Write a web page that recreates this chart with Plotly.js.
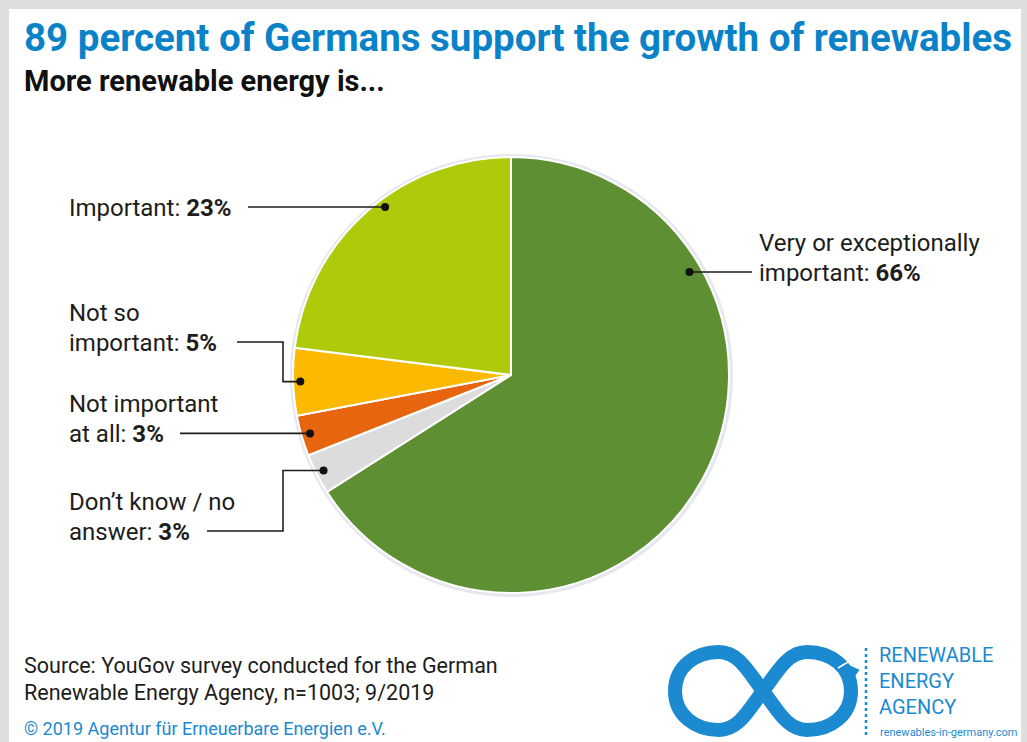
<!DOCTYPE html>
<html>
<head>
<meta charset="utf-8">
<script src="https://cdn.plot.ly/plotly-3.0.1.min.js"></script>
<style>html,body{margin:0;padding:0;background:#fff;}#chart{width:1027px;height:742px;}</style>
</head>
<body>
<div id="chart"></div>
<script>
// ---------- data ----------
const categories = ['Very or exceptionally important', 'Don\u2019t know / no answer', 'Not important at all', 'Not so important', 'Important'];
const values = [66, 3, 3, 5, 23];
const colors = ['#5e8f32', '#dcdcdc', '#e8650f', '#fbb900', '#afca0b'];
const labelLines = [
  ['Very or exceptionally', 'important: <b>66%</b>'],
  ['Don\u2019t know / no', 'answer: <b>3%</b>'],
  ['Not important', 'at all: <b>3%</b>'],
  ['Not so', 'important: <b>5%</b>'],
  ['Important: <b>23%</b>']
];
const titleText = '89 percent of Germans support the growth of renewables';
const subtitleText = 'More renewable energy is...';
const sourceLines = ['Source: YouGov survey conducted for the German', 'Renewable Energy Agency, n=1003; 9/2019'];
const copyrightText = '\u00a9 2019 Agentur f\u00fcr Erneuerbare Energien e.V.';
const logoLines = ['RENEWABLE', 'ENERGY', 'AGENCY'];
const logoUrl = 'renewables-in-germany.com';

// ---------- layout helpers (pixel -> paper) ----------
const W = 1027, H = 742;
const px = x => x / W;
const py = y => 1 - y / H;
const CX = 511, CY = 375, R = 218;
const FONT = 'Roboto, sans-serif';

// slice mid angles (deg clockwise from 12 o'clock)
const total = values.reduce((a, b) => a + b, 0);
let acc = 0;
const mids = values.map(v => { const m = (acc + v / 2) / total * 360; acc += v; return m; });
const polar = (angDeg, r) => {
  const a = angDeg * Math.PI / 180;
  return [CX + r * Math.sin(a), CY - r * Math.cos(a)];
};
const onCircleAtY = (y, r, side) => [CX + side * Math.sqrt(r * r - (y - CY) * (y - CY)), y];

const dots = [
  onCircleAtY(272, 0.945 * R, 1),
  polar(mids[1], 0.965 * R),
  polar(mids[2], 0.96 * R),
  polar(mids[3], 0.967 * R),
  onCircleAtY(207, 0.963 * R, -1)
];

const shapes = [];
const annotations = [];
const lineStyle = {color: '#1d1d1b', width: 1.6};

// background frame
shapes.push({type: 'rect', xref: 'paper', yref: 'paper', x0: px(9), x1: px(1021), y0: py(H + 5), y1: py(9),
  fillcolor: '#ffffff', line: {width: 0}, layer: 'below'});
// soft shadow of the pie
shapes.push({type: 'circle', xref: 'paper', yref: 'paper', x0: px(CX - R - 3), x1: px(CX + R + 4), y0: py(CY + R + 4), y1: py(CY - R - 3),
  fillcolor: 'rgba(200,205,220,0.45)', line: {width: 0}, layer: 'below'});

function path(points) {
  return 'M' + points.map(p => px(p[0]) + ',' + py(p[1])).join(' L');
}
function addLeader(points) {
  shapes.push({type: 'path', xref: 'paper', yref: 'paper', path: path(points), line: lineStyle, layer: 'above'});
}
function addDot(p) {
  const r = 4;
  shapes.push({type: 'circle', xref: 'paper', yref: 'paper', x0: px(p[0] - r), x1: px(p[0] + r), y0: py(p[1] + r), y1: py(p[1] - r),
    fillcolor: '#111', line: {width: 0}, layer: 'above'});
}
function addText(lines, x, lastY, anchor) {
  lines.forEach((t, i) => {
    const y = lastY - (lines.length - 1 - i) * 30;
    annotations.push({xref: 'paper', yref: 'paper', x: px(x), y: py(y + 1), xanchor: anchor, yanchor: 'middle',
      text: t, showarrow: false, font: {family: FONT, size: 24, color: '#1d1d1b'}});
  });
}

// Very
addLeader([dots[0], [752, dots[0][1]]]); addDot(dots[0]); addText(labelLines[0], 757, dots[0][1], 'left');
// Don't know
addLeader([[207, 531], [283, 531], [283, dots[1][1]], dots[1]]); addDot(dots[1]); addText(labelLines[1], 67, 531, 'left');
// Not at all
addLeader([[180, dots[2][1]], dots[2]]); addDot(dots[2]); addText(labelLines[2], 67, dots[2][1], 'left');
// Not so
addLeader([[237, 342], [283, 342], [283, dots[3][1]], dots[3]]); addDot(dots[3]); addText(labelLines[3], 67, 342, 'left');
// Important
addLeader([[248, dots[4][1]], dots[4]]); addDot(dots[4]); addText(labelLines[4], 67, dots[4][1], 'left');

// titles
annotations.push({xref: 'paper', yref: 'paper', x: px(22), y: py(37), xanchor: 'left', yanchor: 'middle', showarrow: false,
  text: '<b>' + titleText + '</b>', font: {family: FONT, size: 38.5, color: '#0a82c8'}});
annotations.push({xref: 'paper', yref: 'paper', x: px(22), y: py(81), xanchor: 'left', yanchor: 'middle', showarrow: false,
  text: '<b>' + subtitleText + '</b>', font: {family: FONT, size: 29, color: '#111'}});
// source
sourceLines.forEach((t, i) => annotations.push({xref: 'paper', yref: 'paper', x: px(22), y: py(665 + i * 27), xanchor: 'left', yanchor: 'middle',
  showarrow: false, text: t, font: {family: FONT, size: 21.5, color: '#1d1d1b'}}));
annotations.push({xref: 'paper', yref: 'paper', x: px(22), y: py(728), xanchor: 'left', yanchor: 'middle', showarrow: false,
  text: copyrightText, font: {family: FONT, size: 18, color: '#1b8ad0'}});
// logo text (one block)
annotations.push({xref: 'paper', yref: 'paper', x: px(877), y: py(641), xanchor: 'left', yanchor: 'top', align: 'left',
  showarrow: false, text: logoLines.join('<br>'), font: {family: FONT, size: 20, color: '#1b8ad0'}});
annotations.push({xref: 'paper', yref: 'paper', x: px(878), y: py(732), xanchor: 'left', yanchor: 'middle', showarrow: false,
  text: logoUrl, font: {family: FONT, size: 11, color: '#1b8ad0'}});
// dotted separator
shapes.push({type: 'line', xref: 'paper', yref: 'paper', x0: px(866), x1: px(866), y0: py(648), y1: py(737),
  line: {color: '#1b8ad0', width: 2.5, dash: 'dot'}});

// infinity logo drawn as cubic Bezier figure-eight
const P = (x, y) => px(x) + ',' + py(y);
const infPath =
  'M' + P(763, 691) +
  ' C' + P(777, 673) + ' ' + P(787, 652) + ' ' + P(807, 652) +
  ' C' + P(831, 652) + ' ' + P(851, 667) + ' ' + P(851, 691) +
  ' C' + P(851, 715) + ' ' + P(831, 730) + ' ' + P(807, 730) +
  ' C' + P(787, 730) + ' ' + P(777, 709) + ' ' + P(763, 691) +
  ' C' + P(749, 673) + ' ' + P(739, 652) + ' ' + P(719, 652) +
  ' C' + P(695, 652) + ' ' + P(675, 667) + ' ' + P(675, 691) +
  ' C' + P(675, 715) + ' ' + P(695, 730) + ' ' + P(719, 730) +
  ' C' + P(739, 730) + ' ' + P(749, 709) + ' ' + P(763, 691) + ' Z';
shapes.push({type: 'path', xref: 'paper', yref: 'paper', path: infPath, line: {color: '#1b8ad0', width: 14}});
// small arrowhead at the loop end
shapes.push({type: 'path', xref: 'paper', yref: 'paper', path: path([[843, 663], [859, 670], [850, 682]]) + ' Z',
  fillcolor: '#1b8ad0', line: {color: '#1b8ad0', width: 1}});
shapes.push({type: 'line', xref: 'paper', yref: 'paper', x0: px(838), x1: px(848), y0: py(668), y1: py(662),
  line: {color: '#ffffff', width: 1.5}});

const data = [{
  type: 'pie',
  labels: categories,
  values: values,
  sort: false,
  direction: 'clockwise',
  rotation: 0,
  textinfo: 'none',
  hoverinfo: 'label+percent',
  marker: {colors: colors, line: {color: '#ffffff', width: 2}},
  domain: {x: [px(CX - R), px(CX + R)], y: [py(CY + R), py(CY - R)]},
  showlegend: false
}];

const layout = {
  width: W, height: H,
  margin: {l: 0, r: 0, t: 0, b: 0},
  paper_bgcolor: '#dedede',
  showlegend: false,
  shapes: shapes,
  annotations: annotations
};

Plotly.newPlot('chart', data, layout, {displayModeBar: false, staticPlot: true});
</script>
</body>
</html>
